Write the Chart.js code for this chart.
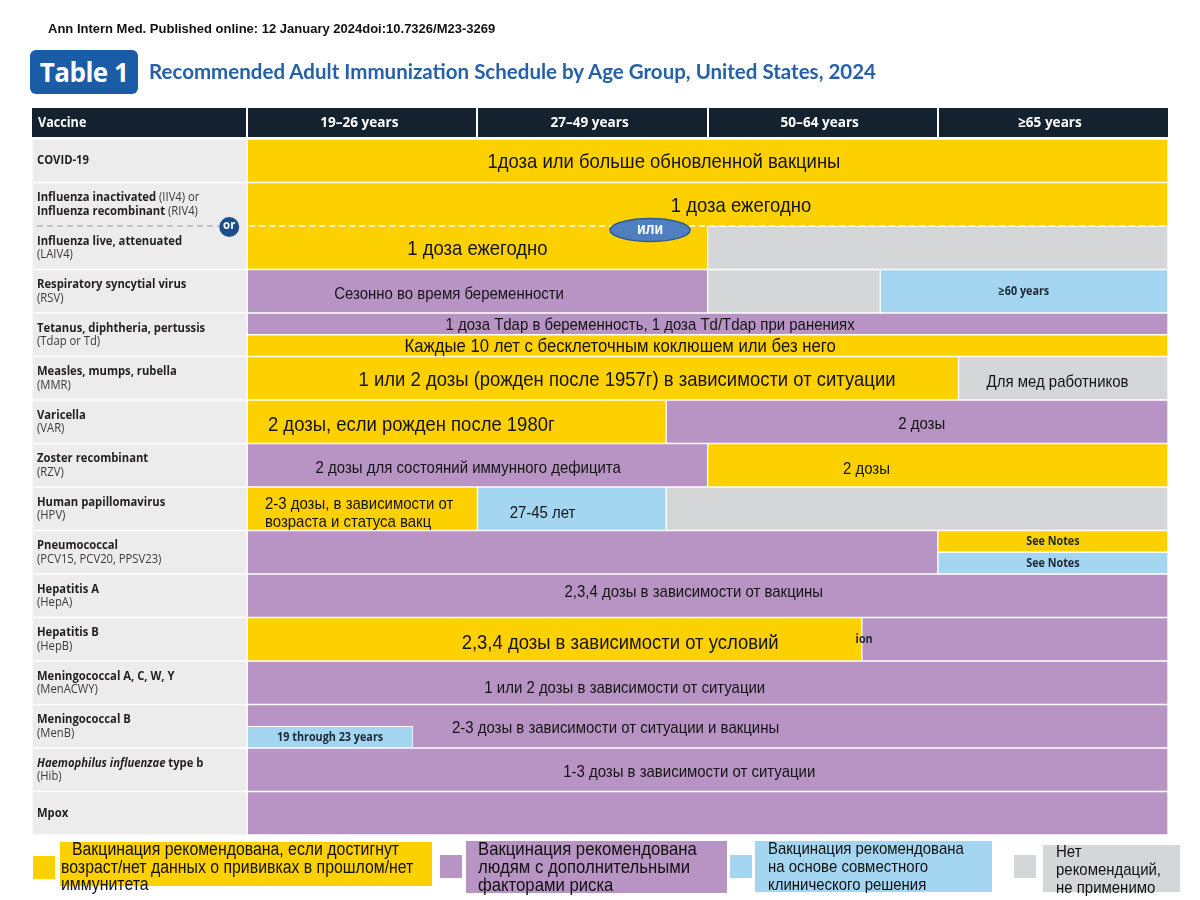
<!DOCTYPE html>
<html>
<head>
<meta charset="utf-8">
<script src="https://cdn.jsdelivr.net/npm/chart.js@4.4.1/dist/chart.umd.min.js"></script>
<style>
  html, body { margin: 0; padding: 0; background: #fff; }
  #wrap { position: relative; width: 1200px; height: 900px; overflow: hidden; }
  #chart { position: absolute; left: 0; top: 0; }
  .src { position: absolute; left: 48px; top: 21px; font: bold 13px "Liberation Sans", Arial, sans-serif; color: #111; white-space: nowrap; }
  .badge { position: absolute; left: 30px; top: 50px; width: 108px; height: 44px; background: #1a5ca5; border-radius: 6px;
           color: #fff; font: 700 26px "Open Sans", sans-serif; line-height: 44px; text-align: center; letter-spacing: -0.5px; }
  .title { position: absolute; left: 149px; top: 59px; font: 700 20px Lato, sans-serif; color: #2461aa; white-space: nowrap; transform-origin: 0 0; }
  .sq { position: absolute; width: 22px; height: 23px; }
  .lbox { position: absolute; font-family: "Liberation Sans", Arial, sans-serif; color: #111; line-height: 18px; }
  .lbox span { position: absolute; white-space: nowrap; transform: scaleX(0.88); transform-origin: 0 50%; }
</style>
</head>
<body>
<div id="wrap">
  <canvas id="chart" width="1200" height="900"></canvas>
  <div class="src">Ann Intern Med. Published online: 12 January 2024doi:10.7326/M23-3269</div>
  <div class="badge">Table 1</div>
  <div class="title" id="title">Recommended Adult Immunization Schedule by Age Group, United States, 2024</div>

  <div class="sq" style="left:33px;top:856px;background:#fdd000"></div>
  <div class="lbox" style="left:60px;top:842px;width:372px;height:44px;background:#fdd000;font-size:18px">
    <span style="left:12px;top:-2px">Вакцинация рекомендована, если достигнут</span>
    <span style="left:1px;top:16px">возраст/нет данных о прививках в прошлом/нет</span>
    <span style="left:1px;top:33px">иммунитета</span>
  </div>

  <div class="sq" style="left:440px;top:855px;background:#b794c3"></div>
  <div class="lbox" style="left:466px;top:841px;width:261px;height:52px;background:#b794c3;font-size:19px">
    <span style="left:12px;top:-1px">Вакцинация рекомендована</span>
    <span style="left:12px;top:17px">людям с дополнительными</span>
    <span style="left:12px;top:35px">факторами риска</span>
  </div>

  <div class="sq" style="left:730px;top:855px;background:#a4d6f1"></div>
  <div class="lbox" style="left:755px;top:841px;width:237px;height:51px;background:#a4d6f1;font-size:17px">
    <span style="left:13px;top:-1px">Вакцинация рекомендована</span>
    <span style="left:13px;top:17px">на основе совместного</span>
    <span style="left:13px;top:35px">клинического решения</span>
  </div>

  <div class="sq" style="left:1014px;top:855px;background:#d5d6d8"></div>
  <div class="lbox" style="left:1043px;top:845px;width:137px;height:47px;background:#d5d6d8;font-size:17px">
    <span style="left:13px;top:-2px">Нет</span>
    <span style="left:13px;top:16px">рекомендаций,</span>
    <span style="left:13px;top:34px">не применимо</span>
  </div>
</div>

<script>
// Row labels (** bold, // bold italic, rest normal)
const vaccineLabels = [
    ['**COVID-19**'],
    ['**Influenza inactivated** (IIV4) or', '**Influenza recombinant** (RIV4)'],
    ['**Influenza live, attenuated**', '(LAIV4)'],
    ['**Respiratory syncytial virus**', '(RSV)'],
    ['**Tetanus, diphtheria, pertussis**', '(Tdap or Td)'],
    ['**Measles, mumps, rubella**', '(MMR)'],
    ['**Varicella**', '(VAR)'],
    ['**Zoster recombinant**', '(RZV)'],
    ['**Human papillomavirus**', '(HPV)'],
    ['**Pneumococcal**', '(PCV15, PCV20, PPSV23)'],
    ['**Hepatitis A**', '(HepA)'],
    ['**Hepatitis B**', '(HepB)'],
    ['**Meningococcal A, C, W, Y**', '(MenACWY)'],
    ['**Meningococcal B**', '(MenB)'],
    ['//Haemophilus influenzae//** type b**', '(Hib)'],
    ['**Mpox**']
];
const ageGroups = ['19–26 years', '27–49 years', '50–64 years', '≥65 years'];

// Ranges in age-column units: 0 = start of 19–26, 1 = 27–49, 2 = 50–64, 3 = ≥65, 4 = end
const yellowBars = [[0, 4], [0, 4], [0, 2], null, null, [0, 3.09], [0, 1.82], [2, 4], [0, 1], null, null, [0, 2.67], null, null, null, null];
const purpleBars = [null, null, null, [0, 2], null, null, [1.82, 4], [0, 2], null, [0, 3], [0, 4], [2.67, 4], [0, 4], [0, 4], [0, 4], [0, 4]];
const blueBars   = [null, null, null, [2.75, 4], null, null, null, null, [1, 1.82], null, null, null, null, null, null, null];
const grayBars   = [null, null, [2, 4], [2, 2.75], null, [3.09, 4], null, null, [1.82, 4], null, null, null, null, null, null, null];
// rows split in two halves
const upperBars  = [null, null, null, null, [0, 4], null, null, null, null, [3, 4], null, null, null, null, null, null];
const upperKind  = ['', '', '', '', 'purple', '', '', '', '', 'yellow', '', '', '', '', '', ''];
const lowerBars  = [null, null, null, null, [0, 4], null, null, null, null, [3, 4], null, null, null, [0, 0.72], null, null];
const lowerKind  = ['', '', '', '', 'yellow', '', '', '', '', 'blue', '', '', '', 'blue', '', ''];

const labelColumn = -0.935;

const colors = { yellow: '#fdd000', purple: '#b794c3', blue: '#a4d6f1', gray: '#d5d6d8', label: '#ececec' };

// text written in the cells
const cellLabels = [
    { row: 0, x: 1.81, text: '1доза или больше обновленной вакцины', size: 21 },
    { row: 1, x: 2.145, text: '1 доза ежегодно', size: 21 },
    { row: 2, x: 1.0, text: '1 доза ежегодно', size: 21 },
    { row: 3, x: 0.877, text: 'Сезонно во время беременности', size: 17, dy: 2 },
    { row: 3, x: 3.374, text: '≥60 years', small: true },
    { row: 4, half: -1, x: 1.75, text: '1 доза Tdap в беременность, 1 доза Td/Tdap при ранениях', size: 17 },
    { row: 4, half: 1, x: 1.62, text: 'Каждые 10 лет с бесклеточным коклюшем или без него', size: 19 },
    { row: 5, x: 1.65, text: '1 или 2 дозы (рожден после 1957г) в зависимости от ситуации', size: 21 },
    { row: 5, x: 3.52, text: 'Для мед работников', size: 17, dy: 3 },
    { row: 6, x: 0.09, align: 'left', text: '2 дозы, если рожден после 1980г', size: 21, dy: 2 },
    { row: 6, x: 2.93, text: '2 дозы', size: 17, dy: 1 },
    { row: 7, x: 0.96, text: '2 дозы для состояний иммунного дефицита', size: 17, dy: 2 },
    { row: 7, x: 2.69, text: '2 дозы', size: 17, dy: 3 },
    { row: 8, x: 0.077, align: 'left', text: '2-3 дозы, в зависимости от', size: 17, dy: -6 },
    { row: 8, x: 0.077, align: 'left', text: 'возраста и статуса вакц', size: 17, dy: 12 },
    { row: 8, x: 1.14, align: 'left', text: '27-45 лет', size: 17, dy: 3 },
    { row: 9, half: -1, x: 3.5, text: 'See Notes', small: true },
    { row: 9, half: 1, x: 3.5, text: 'See Notes', small: true },
    { row: 10, x: 1.94, text: '2,3,4 дозы в зависимости от вакцины', size: 17, dy: -5 },
    { row: 11, x: 1.62, text: '2,3,4 дозы в зависимости от условий', size: 21, dy: 2 },
    { row: 11, x: 2.68, text: 'ion', small: true },
    { row: 12, x: 1.64, text: '1 или 2 дозы в зависимости от ситуации', size: 17, dy: 4 },
    { row: 13, x: 1.6, text: '2-3 дозы в зависимости от ситуации и вакцины', size: 17, dy: 1 },
    { row: 13, half: 1, x: 0.36, text: '19 through 23 years', small: true },
    { row: 14, x: 1.92, text: '1-3 дозы в зависимости от ситуации', size: 17, dy: 1 }
];

const plainLabels = vaccineLabels.map(l => l.join(' ').replace(/\*\*|\/\//g, ''));

// flu rows share one cell with a dashed divider
function fluSkip(ctx) {
    if (ctx.dataIndex === 1) return 'bottom';
    if (ctx.dataIndex === 2) return 'top';
    return false;
}

function squeezeText(ctx, text, x, y, align, k) {
    const w = ctx.measureText(text).width * k;
    let sx = x;
    if (align === 'center') sx = x - w / 2;
    if (align === 'right') sx = x - w;
    ctx.save();
    ctx.translate(sx, y);
    ctx.scale(k, 1);
    ctx.textAlign = 'left';
    ctx.fillText(text, 0, 0);
    ctx.restore();
    return w;
}

function drawRich(ctx, line, x, y, size, k) {
    const parts = line.split(/(\*\*.*?\*\*|\/\/.*?\/\/)/).filter(Boolean);
    let cx = x;
    parts.forEach(p => {
        let t = p;
        if (p.startsWith('**')) {
            t = p.slice(2, -2);
            ctx.font = `700 ${size}px "Open Sans"`;
            ctx.fillStyle = '#231f20';
        } else if (p.startsWith('//')) {
            t = p.slice(2, -2);
            ctx.font = `italic 700 ${size}px "Open Sans"`;
            ctx.fillStyle = '#231f20';
        } else {
            ctx.font = `400 ${size}px "Open Sans"`;
            ctx.fillStyle = '#3a3a3a';
        }
        cx += squeezeText(ctx, t, cx, y, 'left', k);
    });
}

const tablePlugin = {
    id: 'tableText',
    afterDatasetsDraw(chart) {
        const { ctx, chartArea, scales: { x, y } } = chart;
        const rowH = y.getPixelForValue(1) - y.getPixelForValue(0);
        ctx.save();
        ctx.textBaseline = 'middle';

        // header row
        const hTop = chartArea.top - 31, hH = 29;
        ctx.fillStyle = '#14212f';
        ctx.fillRect(chartArea.left, hTop, chartArea.right - chartArea.left, hH);
        ctx.fillStyle = '#ffffff';
        for (let i = 0; i < 4; i++) {
            ctx.fillRect(Math.round(x.getPixelForValue(i)) - 1, hTop, 2, hH);
        }
        ctx.font = '700 14px "Open Sans"';
        squeezeText(ctx, 'Vaccine', chartArea.left + 6, hTop + hH / 2 + 1, 'left', 0.9);
        ageGroups.forEach((g, i) => {
            const c = (x.getPixelForValue(i) + x.getPixelForValue(i + 1)) / 2 - 3;
            squeezeText(ctx, g, c, hTop + hH / 2 + 1, 'center', 0.97);
        });

        // vaccine names
        vaccineLabels.forEach((lines, i) => {
            const cy = y.getPixelForValue(i);
            if (lines.length === 1) {
                drawRich(ctx, lines[0], chartArea.left + 5, cy, 12.5, 0.9);
            } else {
                drawRich(ctx, lines[0], chartArea.left + 5, cy - 6.5, 12.5, 0.9);
                drawRich(ctx, lines[1], chartArea.left + 5, cy + 7, 12.5, 0.9);
            }
        });

        // dashed divider between influenza rows
        const by = (y.getPixelForValue(1) + y.getPixelForValue(2)) / 2;
        const x0 = x.getPixelForValue(0);
        ctx.lineWidth = 1.3;
        ctx.setLineDash([6, 4]);
        ctx.strokeStyle = '#b8b8b8';
        ctx.beginPath();
        ctx.moveTo(chartArea.left + 5, by);
        ctx.lineTo(x0 - 28, by);
        ctx.stroke();
        ctx.strokeStyle = '#ffffff';
        ctx.beginPath();
        ctx.moveTo(x0 + 2, by);
        ctx.lineTo(chartArea.right, by);
        ctx.stroke();
        ctx.setLineDash([]);

        // "or" circle
        ctx.fillStyle = '#1b4f8c';
        ctx.beginPath();
        ctx.arc(x0 - 18, by + 1, 10, 0, Math.PI * 2);
        ctx.fill();
        ctx.fillStyle = '#fff';
        ctx.font = '700 12px "Open Sans"';
        squeezeText(ctx, 'or', x0 - 18, by, 'center', 0.95);

        // "или" ellipse
        const ex = x.getPixelForValue(1.75);
        ctx.fillStyle = '#4f7fc0';
        ctx.strokeStyle = '#2f5a8f';
        ctx.lineWidth = 1.5;
        ctx.beginPath();
        ctx.ellipse(ex, by + 4, 40, 11.5, 0, 0, Math.PI * 2);
        ctx.fill();
        ctx.stroke();
        ctx.fillStyle = '#fff';
        ctx.font = '700 16px "Liberation Sans"';
        squeezeText(ctx, 'или', ex, by + 4, 'center', 0.88);

        // cell texts
        cellLabels.forEach(l => {
            let cy = y.getPixelForValue(l.row) + (l.dy || 0);
            if (l.half) cy += l.half * rowH / 4;
            const px = x.getPixelForValue(l.x);
            if (l.small) {
                ctx.fillStyle = '#1c2833';
                ctx.font = '700 12px "Open Sans"';
                squeezeText(ctx, l.text, px, cy, l.align || 'center', 0.9);
            } else {
                ctx.fillStyle = '#141414';
                ctx.font = `${l.size}px "Liberation Sans"`;
                squeezeText(ctx, l.text, px, cy + 1.5, l.align || 'center', 0.88);
            }
        });
        ctx.restore();
    }
};

function barSet(label, data, color, extra) {
    return Object.assign({
        label,
        data,
        backgroundColor: color,
        borderColor: '#ffffff',
        borderWidth: 1,
        borderSkipped: false,
        grouped: false,
        categoryPercentage: 1,
        barPercentage: 1
    }, extra || {});
}

new Chart(document.getElementById('chart'), {
    type: 'bar',
    data: {
        labels: plainLabels,
        datasets: [
            barSet('upper half', upperBars, upperKind.map(k => colors[k] || colors.gray), { grouped: true }),
            barSet('lower half', lowerBars, lowerKind.map(k => colors[k] || colors.gray), { grouped: true }),
            barSet('Recommended (age / no evidence of immunity)', yellowBars, colors.yellow, { borderSkipped: fluSkip }),
            barSet('Additional risk factors', purpleBars, colors.purple),
            barSet('Shared clinical decision-making', blueBars, colors.blue),
            barSet('No recommendation', grayBars, colors.gray),
            barSet('Vaccine', plainLabels.map(() => [labelColumn, 0]), colors.label, { borderSkipped: fluSkip })
        ]
    },
    options: {
        indexAxis: 'y',
        responsive: false,
        animation: false,
        layout: { padding: { left: 32, right: 32, top: 139, bottom: 65 } },
        scales: {
            x: { type: 'linear', min: labelColumn, max: 4, stacked: false, display: false },
            y: { type: 'category', display: false }
        },
        plugins: {
            legend: { display: false },
            tooltip: { enabled: false }
        }
    },
    plugins: [tablePlugin]
});

// fit the headline to the width it has in the original
const title = document.getElementById('title');
const tw = title.getBoundingClientRect().width;
title.style.transform = `scaleX(${727 / tw})`;
</script>
</body>
</html>
